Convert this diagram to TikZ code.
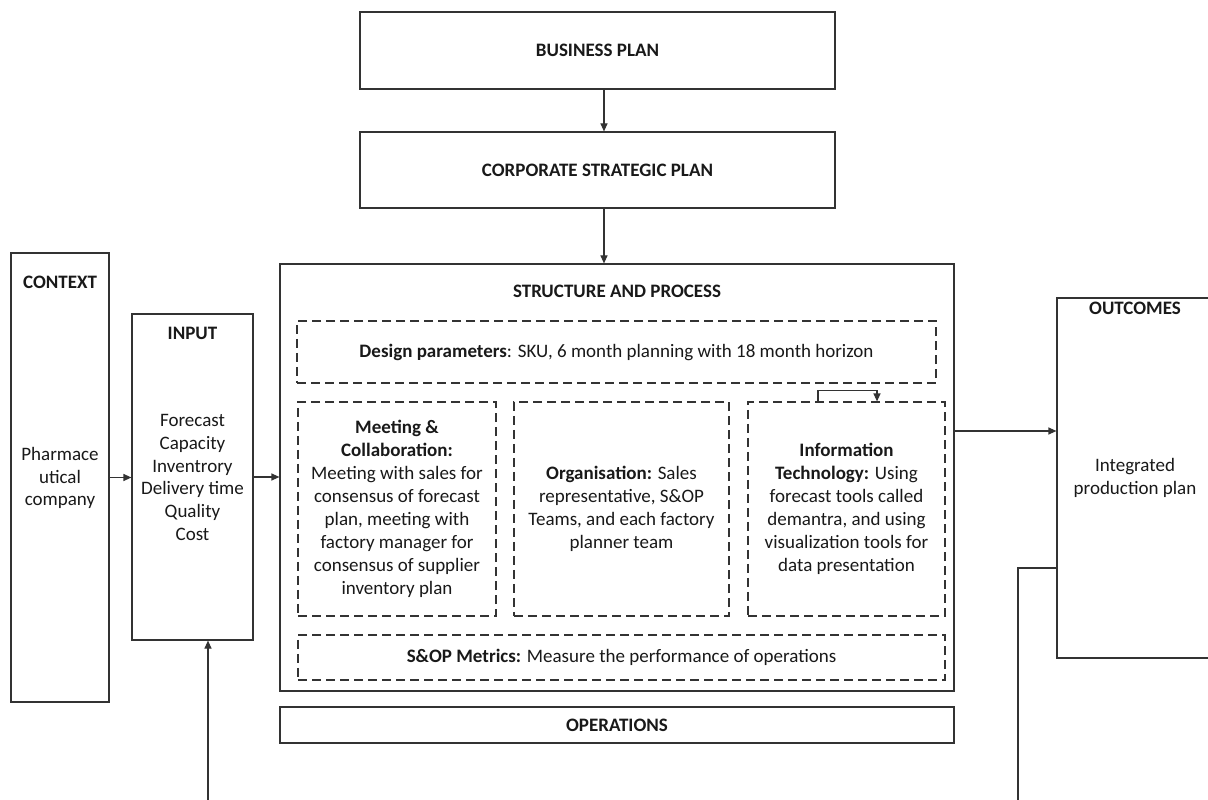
\documentclass[tikz,border=0pt]{standalone}
\usepackage{fontspec}
\setmainfont{Carlito}
\usetikzlibrary{arrows.meta}
\begin{document}
\begin{tikzpicture}[x=0.6pt,y=-0.6pt,
  line width=0.7pt,
  every node/.style={font=\fontsize{11.4}{13.75}\selectfont, text=black!90},
  box/.style={draw=black!80, rectangle, inner sep=0pt, align=center},
  dbox/.style={box, dash pattern=on 5.4pt off 3pt},
  lbl/.style={inner sep=0pt, align=center},
  arr/.style={draw=black!80, -{Triangle[length=4.8pt,width=4.2pt]}},
  ln/.style={draw=black!80}]
\useasboundingbox (0,0) rectangle (1208,800);
\clip (0,0) rectangle (1208,800);
\fill[white] (0,0) rectangle (1208,800);

% top boxes
\node[box, minimum width=475*0.6pt, minimum height=77*0.6pt] (bp) at (597.5,50.5) {\textbf{BUSINESS PLAN}};
\node[box, minimum width=475*0.6pt, minimum height=76*0.6pt] (csp) at (597.5,170) {\textbf{CORPORATE STRATEGIC PLAN}};

% structure and process
\node[box, minimum width=674*0.6pt, minimum height=427*0.6pt] (sp) at (617,477.5) {};
\node[lbl] (spt) at (617,291) {\textbf{STRUCTURE AND PROCESS}};
\node[dbox, minimum width=639*0.6pt, minimum height=62*0.6pt] (dp) at (616.5,352) {\textbf{Design parameters}: SKU, 6 month planning with 18 month horizon};
\node[dbox, minimum width=198*0.6pt, minimum height=214*0.6pt] (mc) at (397,509) {\textbf{Meeting \&}\\\textbf{Collaboration:}\\Meeting with sales for\\consensus of forecast\\plan, meeting with\\factory manager for\\consensus of supplier\\inventory plan};
\node[dbox, minimum width=215*0.6pt, minimum height=214*0.6pt] (org) at (621.5,509) {\textbf{Organisation:} Sales\\representative, S\&OP\\Teams, and each factory\\planner team};
\node[dbox, minimum width=197*0.6pt, minimum height=214*0.6pt] (it) at (846.5,509) {\textbf{Information}\\\textbf{Technology:} Using\\forecast tools called\\demantra, and using\\visualization tools for\\data presentation};
\node[dbox, minimum width=647*0.6pt, minimum height=45*0.6pt] (met) at (621.5,657.5) {\textbf{S\&OP Metrics:} Measure the performance of operations};
\node[box, minimum width=674*0.6pt, minimum height=36*0.6pt] (ops) at (617,725) {\textbf{OPERATIONS}};

% context
\node[box, minimum width=98*0.6pt, minimum height=449*0.6pt] (ctx) at (60,477.5) {};
\node[lbl] (ctxt) at (60,282) {\textbf{CONTEXT}};
\node[lbl] (ctxb) at (60,478) {Pharmace\\utical\\company};

% input
\node[box, minimum width=121*0.6pt, minimum height=326*0.6pt] (inp) at (192.5,477) {};
\node[lbl] (inpt) at (192.5,333) {\textbf{INPUT}};
\node[lbl] (inpb) at (192.5,477.5) {Forecast\\Capacity\\Inventrory\\Delivery time\\Quality\\Cost};

% outcomes
\node[box, minimum width=158*0.6pt, minimum height=360*0.6pt] (out) at (1136,478) {};
\node[lbl] (outt) at (1135,308) {\textbf{OUTCOMES}};
\node[lbl] (outb) at (1135,477.5) {Integrated\\production plan};

% connectors
\draw[arr] ([xshift=6.5*0.6pt]bp.south) -- ([xshift=6.5*0.6pt]csp.north);
\draw[arr] ([xshift=6.5*0.6pt]csp.south) -- ([xshift=-13*0.6pt]sp.north);
\draw[arr] (ctx.east) -- (inp.west |- ctx.east);
\draw[arr] (inp.east) -- (sp.west |- inp.east);
\path ([yshift=46.5*0.6pt]sp.east) coordinate (s1);
\draw[arr] (s1) -- (s1 -| out.west);
\coordinate (b1) at (208,800);
\draw[arr] (b1) -- (b1 |- inp.south);
\coordinate (b2) at (1018,800);
\draw[ln] ([yshift=-90*0.6pt]out.west) -| (b2);
\draw[arr] ([xshift=-28.5*0.6pt]it.north) |- ++(0,-11) -| ([xshift=30.5*0.6pt]it.north);
\end{tikzpicture}
\end{document}
